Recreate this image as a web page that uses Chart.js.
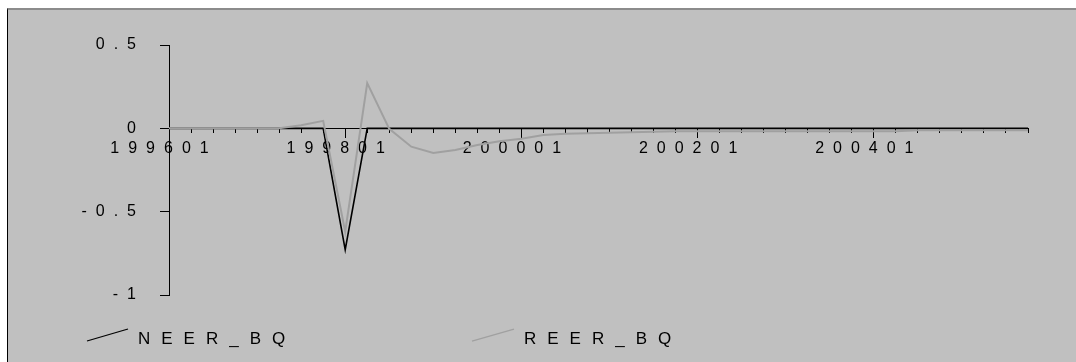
<!DOCTYPE html>
<html>
<head>
<meta charset="utf-8">
<script src="https://cdn.jsdelivr.net/npm/chart.js@4/dist/chart.umd.min.js"></script>
<style>
  html, body { margin: 0; padding: 0; background: #ffffff; overflow: hidden; }
  #frame {
    position: absolute; left: 7px; top: 8px; right: 0; bottom: 0;
    background: #c0c0c0;
    border-top: 2px solid #8c8c8c;
    border-left: 1px solid #000000;
  }
  #chart { position: absolute; left: 0; top: 0; }
</style>
</head>
<body>
<div id="frame"></div>
<canvas id="chart" width="1076" height="362"></canvas>
<script>
// Quarterly periods, 1996 Q1 to 2005 Q4
const periods = [
  '199601','199602','199603','199604',
  '199701','199702','199703','199704',
  '199801','199802','199803','199804',
  '199901','199902','199903','199904',
  '200001','200002','200003','200004',
  '200101','200102','200103','200104',
  '200201','200202','200203','200204',
  '200301','200302','200303','200304',
  '200401','200402','200403','200404',
  '200501','200502','200503','200504'
];

// Periods that carry a label on the horizontal axis
const periodLabels = ['199601', '199801', '200001', '200201', '200401'];

const neerBQ = [
  0, 0, 0, 0, 0, 0, 0, 0,
  -0.728, 0, 0, 0, 0, 0, 0, 0,
  0, 0, 0, 0, 0, 0, 0, 0,
  0, 0, 0, 0, 0, 0, 0, 0,
  0, 0, 0, 0, 0, 0, 0, 0
];

const reerBQ = [
  0, 0, 0, 0, 0, 0, 0.018, 0.045,
  -0.62, 0.272, -0.003, -0.11, -0.148, -0.13, -0.1, -0.078,
  -0.062, -0.04, -0.033, -0.03, -0.027, -0.024, -0.02, -0.018,
  -0.018, -0.018, -0.018, -0.018, -0.018, -0.018, -0.018, -0.018,
  -0.018, -0.018, -0.012, -0.012, -0.012, -0.012, -0.012, -0.012
];

const yTicks = [-1, -0.5, 0, 0.5];

const FONT = '"Liberation Sans", Arial, sans-serif';

// Wide letter spacing for all axis text
const spacedText = {
  id: 'spacedText',
  beforeUpdate(chart) { chart.ctx.letterSpacing = '9px'; },
  beforeDraw(chart) { chart.ctx.letterSpacing = '9px'; }
};

// Legend along the bottom edge with slanted line keys
const bottomLegend = {
  id: 'bottomLegend',
  afterDraw(chart) {
    const ctx = chart.ctx;
    const items = [
      { ds: chart.data.datasets[0], x0: 87, x1: 128, tx: 138 },
      { ds: chart.data.datasets[1], x0: 472, x1: 514, tx: 524 }
    ];
    ctx.save();
    ctx.letterSpacing = '11px';
    ctx.font = '17px ' + FONT;
    ctx.fillStyle = '#000000';
    ctx.textBaseline = 'middle';
    ctx.textAlign = 'left';
    items.forEach(it => {
      ctx.strokeStyle = it.ds.borderColor;
      ctx.lineWidth = 1.3;
      ctx.beginPath();
      ctx.moveTo(it.x0, 341);
      ctx.lineTo(it.x1, 329);
      ctx.stroke();
      ctx.fillText(it.ds.label, it.tx, 339);
    });
    ctx.restore();
  }
};

new Chart(document.getElementById('chart'), {
  type: 'line',
  data: {
    labels: periods,
    datasets: [
      {
        label: 'NEER_BQ',
        data: neerBQ,
        borderColor: '#000000',
        borderWidth: 1.6,
        pointRadius: 0,
        tension: 0,
        order: 1
      },
      {
        label: 'REER_BQ',
        data: reerBQ,
        borderColor: '#a0a0a0',
        borderWidth: 2,
        pointRadius: 0,
        tension: 0,
        order: 0
      }
    ]
  },
  options: {
    responsive: false,
    animation: false,
    devicePixelRatio: 1,
    layout: { padding: { left: 0, right: 48, top: 45, bottom: 67 } },
    plugins: {
      legend: { display: false },
      tooltip: { enabled: false }
    },
    scales: {
      x: {
        type: 'category',
        position: { y: 0 },
        offset: false,
        border: { color: '#000000', width: 1 },
        grid: {
          drawOnChartArea: false,
          drawTicks: true,
          tickLength: 9,
          tickWidth: 1,
          tickColor: '#000000',
          tickBorderDash: (c) => {
            const lbl = periods[c.index];
            return periodLabels.includes(lbl) ? [] : [4, 40];
          }
        },
        ticks: {
          autoSkip: false,
          maxRotation: 0,
          minRotation: 0,
          padding: 2,
          labelOffset: -5,
          color: '#000000',
          font: { family: FONT, size: 16 },
          callback: function (v) {
            const lbl = this.getLabelForValue(v);
            return periodLabels.includes(lbl) ? lbl : '';
          }
        }
      },
      y: {
        min: -1,
        max: 0.5,
        border: { color: '#000000', width: 1 },
        grid: {
          drawOnChartArea: false,
          tickLength: 9,
          tickColor: '#000000'
        },
        afterBuildTicks: (s) => { s.ticks = yTicks.map(v => ({ value: v })); },
        afterFit: (s) => { s.width = 169; },
        ticks: {
          padding: 15,
          color: '#000000',
          font: { family: FONT, size: 16 },
          callback: (v) => String(v)
        }
      }
    }
  },
  plugins: [spacedText, bottomLegend]
});
</script>
</body>
</html>
